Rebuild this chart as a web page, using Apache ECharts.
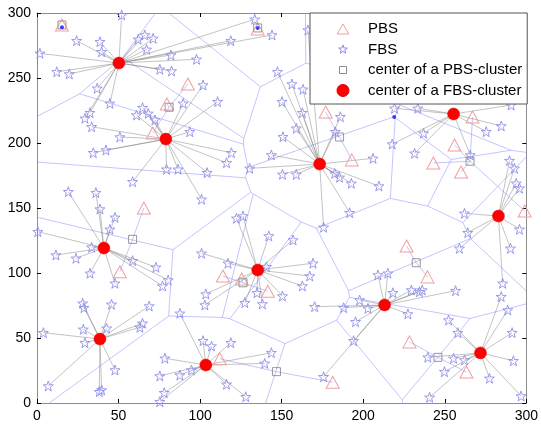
<!DOCTYPE html>
<html><head><meta charset="utf-8">
<script src="https://cdn.jsdelivr.net/npm/echarts@6/dist/echarts.min.js"></script>
<style>html,body{margin:0;padding:0;background:#fff}#c{width:541px;height:425px}</style>
</head><body><div id="c"></div><script>
// ---- data ----
const axisTicks = [0, 50, 100, 150, 200, 250, 300];

// PBS positions (last one sits under the legend, inferred from the Voronoi edges)
const pbsX = [15.3, 92.5, 79.6, 71, 135.3, 177, 193, 267, 256, 243, 260, 299, 226.6, 65.5, 50.8, 114, 125.5, 141.5, 112, 181.3, 239.4, 228.4, 263.3, 194];
const pbsY = [290.8, 245.4, 230, 207.7, 287.7, 223.8, 187, 220, 198.5, 184.6, 177.7, 147.7, 120.8, 150, 101, 97.7, 95.4, 86, 34, 16, 97, 47, 23.8, 288];
const pbsCluster = [0, 1, 1, 1, 2, 3, 3, 4, 4, 4, 4, 4, 5, 6, 6, 7, 7, 7, 8, 8, 5, 9, 9, 10];

const pbsCenterX = [15.3, 81, 135.3, 185.5, 265.5, 232.5, 58.6, 126.3, 146.8, 245.8, 194];
const pbsCenterY = [290.8, 227.5, 288.5, 204.6, 186, 107.9, 125.9, 92.5, 24.1, 35.1, 288];

const fbsCenterX = [50.2, 79, 173.3, 255.4, 282.9, 41, 135.3, 213.1, 38.6, 103.5, 271.9];
const fbsCenterY = [261.5, 203, 183.8, 222.3, 143.8, 119.2, 102.3, 75.4, 49.2, 29.2, 38.5];

const dotX = [15.3, 135.3, 219];
const dotY = [289, 288.5, 220];

const fbsX = [
51.9,24.3,38.6,1.8,62,66.1,71.2,67.2,39.6,82.1,12.1,19.8,75.3,82.5,36.9,44.7,32.5,29.4,61,64.7,68.2,72.3,33.5,50.8,
133.5,144.1,118.8,97.8,147.4,156.3,163.1,150.2,101.8,89.6,110.7,93.7,162.7,159,186,182.9,150.8,166.1,
219.2,233.5,290.7,284.6,275.4,237,
34.5,42.3,79.4,86.5,58.6,19.2,36.1,38.6,47.8,44.7,0.5,33.5,11.6,23.9,58.6,72.9,
119.2,116.2,104.3,143.7,130.4,150.5,159,182.5,185.5,100.9,175.7,191.7,122.3,126.3,142.1,157,100.9,117.1,169.2,140.7,
217.8,231.5,206,265.6,289.7,292.7,293.8,295.8,192.7,209.6,262.1,295.8,264.1,259,290.3,
32.5,47.8,77,80.4,28,28.8,45.7,68.8,87.6,3.9,28.4,42.7,64.7,63.1,29.4,47.8,6.9,38.2,39.6,78.4,75.3,78,75.3,
167.2,162.7,150.5,103.5,102.9,134.9,127.4,138.2,170.2,188,101.8,107,118.8,143.7,139.6,87.6,94.7,116.2,128,175.7,
209,215.1,218.2,229.5,234.5,236.2,256.6,197.8,202.9,227.4,195.3,194.1,285.5,284.6,288.6,252.3,258,291.3,239.6,255.4,262.1,292.1,249.8,277.4,240.7,296.8
];
const fbsY = [
298.5,278.7,277.9,269,279.8,283.1,280.5,272,270.2,267.7,254.8,253.1,256.7,255.4,242.1,230.5,223.3,219,221.5,227.2,222.8,217.7,212.5,204.6,
295.2,283.1,278.7,264.4,254.8,245.4,241.3,231.8,244.6,230.5,231.8,208.7,223.3,211.3,220.2,208.7,204.8,286.9,
226.7,226.7,229.2,213.1,208.7,207.5,
192.5,194.6,179.8,179.8,170.2,162.5,161.8,149.2,142.8,133.6,131.8,119.8,113.8,111.3,109.5,104.4,
192.5,184.8,177.2,190.8,180.5,175.9,175.9,176.6,173.6,156.7,135.2,146.4,142.1,143.8,128.5,125.4,115.2,107.5,107.5,104.8,
199.2,192.1,188.2,190.8,186.4,180.5,169,165.2,169,166.9,145.9,133.6,131,119,119,
99.8,92.1,90,94.6,76.7,73.3,75.9,74.6,69,54.1,56.7,57.5,61.3,58.2,46.4,25.4,13.1,8.7,10,34.4,20.8,7.9,1,
97.7,90,82.3,83.8,75.4,84.8,77.2,76.2,74.1,73.3,47.9,43.8,46.4,38.7,30.5,21.5,25.4,14.4,4.8,20.2,
98.5,99.8,84.8,86.9,85.6,86.9,86.4,79.2,72.8,68.5,62.5,47.9,92.1,81.8,71.5,63.8,54.1,54.1,35.2,34.4,33.1,32.5,24.1,19,4.4,5.4
];

// ---- derived geometry ----
const AX_MIN = axisTicks[0], AX_MAX = axisTicks[axisTicks.length - 1];

function clipPoly(poly, a, b, c) {
  const out = [];
  for (let i = 0; i < poly.length; i++) {
    const P = poly[i], Q = poly[(i + 1) % poly.length];
    const fp = a * P[0] + b * P[1] - c, fq = a * Q[0] + b * Q[1] - c;
    if (fp <= 0) out.push(P);
    if ((fp < 0 && fq > 0) || (fp > 0 && fq < 0)) {
      const t = fp / (fp - fq);
      out.push([P[0] + t * (Q[0] - P[0]), P[1] + t * (Q[1] - P[1])]);
    }
  }
  return out;
}
function voronoiEdges(xs, ys) {
  const n = xs.length, segs = [];
  const onBox = v => Math.abs(v - AX_MIN) < 1e-6 || Math.abs(v - AX_MAX) < 1e-6;
  for (let i = 0; i < n; i++) {
    let poly = [[AX_MIN, AX_MIN], [AX_MAX, AX_MIN], [AX_MAX, AX_MAX], [AX_MIN, AX_MAX]];
    for (let j = 0; j < n; j++) {
      if (j === i) continue;
      const a = xs[j] - xs[i], b = ys[j] - ys[i];
      const c = (xs[j] * xs[j] + ys[j] * ys[j] - xs[i] * xs[i] - ys[i] * ys[i]) / 2;
      poly = clipPoly(poly, a, b, c);
      if (!poly.length) break;
    }
    for (let k = 0; k < poly.length; k++) {
      const P = poly[k], Q = poly[(k + 1) % poly.length];
      if ((onBox(P[0]) && Math.abs(P[0] - Q[0]) < 1e-6) || (onBox(P[1]) && Math.abs(P[1] - Q[1]) < 1e-6)) continue;
      const mx = (P[0] + Q[0]) / 2, my = (P[1] + Q[1]) / 2;
      const di = Math.hypot(mx - xs[i], my - ys[i]);
      let best = -1, bd = Infinity;
      for (let j = 0; j < n; j++) {
        if (j === i) continue;
        const d = Math.abs(Math.hypot(mx - xs[j], my - ys[j]) - di);
        if (d < bd) { bd = d; best = j; }
      }
      if (best > i) segs.push([P[0], P[1], Q[0], Q[1]]);
    }
  }
  return segs;
}
const vorSegs = voronoiEdges(pbsX, pbsY);
const pbsLinks = pbsX.map((x, i) => [x, pbsY[i], pbsCenterX[pbsCluster[i]], pbsCenterY[pbsCluster[i]]]);
const fbsLinks = fbsX.map((x, i) => {
  let best = 0, bd = Infinity;
  fbsCenterX.forEach((cx, k) => { const d = Math.hypot(x - cx, fbsY[i] - fbsCenterY[k]); if (d < bd) { bd = d; best = k; } });
  return [x, fbsY[i], fbsCenterX[best], fbsCenterY[best]];
});

const STAR = 'path://M0,-10L2.35,-3.24L9.51,-3.09L3.8,1.24L5.88,8.09L0,4L-5.88,8.09L-3.8,1.24L-9.51,-3.09L-2.35,-3.24Z';
// legend icons: padded with lone move-to points so they draw smaller inside the legend item box
const STAR_ICON = 'path://M-13,-13M13,13M0,-10L2.35,-3.24L9.51,-3.09L3.8,1.24L5.88,8.09L0,4L-5.88,8.09L-3.8,1.24L-9.51,-3.09L-2.35,-3.24Z';
const SQUARE_ICON = 'path://M-6,-6M6,6M-3.5,-3.5L3.5,-3.5L3.5,3.5L-3.5,3.5Z';
const TRI_ICON = 'path://M-6,-6M6,6M0,-5L5.8,5L-5.8,5Z';
const FONT = 'Liberation Sans, Arial, Helvetica, sans-serif';

function segSeries(segs, color, width, z) {
  return {
    type: 'custom', coordinateSystem: 'cartesian2d', silent: true, z: z, clip: true,
    encode: { x: [0, 2], y: [1, 3] }, data: segs,
    renderItem: (params, api) => {
      const p1 = api.coord([api.value(0), api.value(1)]);
      const p2 = api.coord([api.value(2), api.value(3)]);
      return { type: 'line', shape: { x1: p1[0], y1: p1[1], x2: p2[0], y2: p2[1] },
        style: { stroke: color, lineWidth: width, fill: null } };
    }
  };
}
const zip = (xs, ys) => xs.map((x, i) => [x, ys[i]]);

function axis(pos, labels) {
  return {
    type: 'value', min: AX_MIN, max: AX_MAX, interval: 50, position: pos,
    axisLine: { show: true, onZero: false, lineStyle: { color: '#8c8c8c', width: 1 } },
    axisTick: { show: true, inside: true, length: 4, lineStyle: { color: '#000', width: 1 } },
    axisLabel: { show: labels, fontSize: 14, color: '#000', fontFamily: FONT, margin: 6 },
    splitLine: { show: false }
  };
}

const chart = echarts.init(document.getElementById('c'), null, { renderer: 'canvas' });
chart.setOption({
  animation: false,
  backgroundColor: '#fff',
  grid: { left: 37, right: 14, top: 13, bottom: 22, containLabel: false },
  xAxis: [axis('bottom', true), axis('top', false)],
  yAxis: [axis('left', true), axis('right', false)],
  legend: {
    orient: 'vertical', left: 310, top: 13,
    padding: [8.5, 5, 6, 26.5], itemGap: 5.5, itemWidth: 12, itemHeight: 12,
    backgroundColor: '#fff', borderColor: '#555', borderWidth: 1, borderRadius: 0,
    textStyle: { fontSize: 15, color: '#000', fontFamily: FONT, padding: [0, 0, 0, 14] },
    itemStyle: { borderWidth: 1 },
    selectedMode: false, z: 20,
    data: [
      { name: 'PBS', icon: TRI_ICON },
      { name: 'FBS', icon: STAR_ICON },
      { name: 'center of a PBS-cluster', icon: SQUARE_ICON },
      { name: 'center of a FBS-cluster', icon: 'circle' }
    ]
  },
  series: [
    segSeries(vorSegs, 'rgba(120,120,255,0.55)', 0.8, 1),
    segSeries(pbsLinks, 'rgba(120,120,255,0.55)', 0.8, 1),
    segSeries(fbsLinks, 'rgba(110,110,110,0.6)', 0.7, 2),
    { name: 'PBS', type: 'scatter', symbol: 'triangle', symbolSize: [13, 12], z: 3, silent: true,
      itemStyle: { color: 'rgba(0,0,0,0)', borderColor: '#f0a0a0', borderWidth: 1, opacity: 1 },
      data: zip(pbsX, pbsY) },
    { name: 'FBS', type: 'scatter', symbol: STAR, symbolSize: 10, z: 3, silent: true,
      itemStyle: { color: 'rgba(0,0,0,0)', borderColor: '#8f8fec', borderWidth: 0.9, opacity: 1 },
      data: zip(fbsX, fbsY) },
    { name: 'center of a PBS-cluster', type: 'scatter', symbol: 'rect', symbolSize: 8, z: 4, silent: true,
      itemStyle: { color: 'rgba(0,0,0,0)', borderColor: '#8c8c8c', borderWidth: 0.9, opacity: 1 },
      data: zip(pbsCenterX, pbsCenterY) },
    { name: 'dots', type: 'scatter', symbol: 'circle', symbolSize: 4, z: 5, silent: true,
      itemStyle: { color: '#1010ff' }, data: zip(dotX, dotY) },
    { name: 'center of a FBS-cluster', type: 'scatter', symbol: 'circle', symbolSize: 12, z: 5, silent: true,
      itemStyle: { color: '#ff0000', borderColor: '#e00000', borderWidth: 0.5, opacity: 1 },
      data: zip(fbsCenterX, fbsCenterY) }
  ]
});
</script></body></html>
